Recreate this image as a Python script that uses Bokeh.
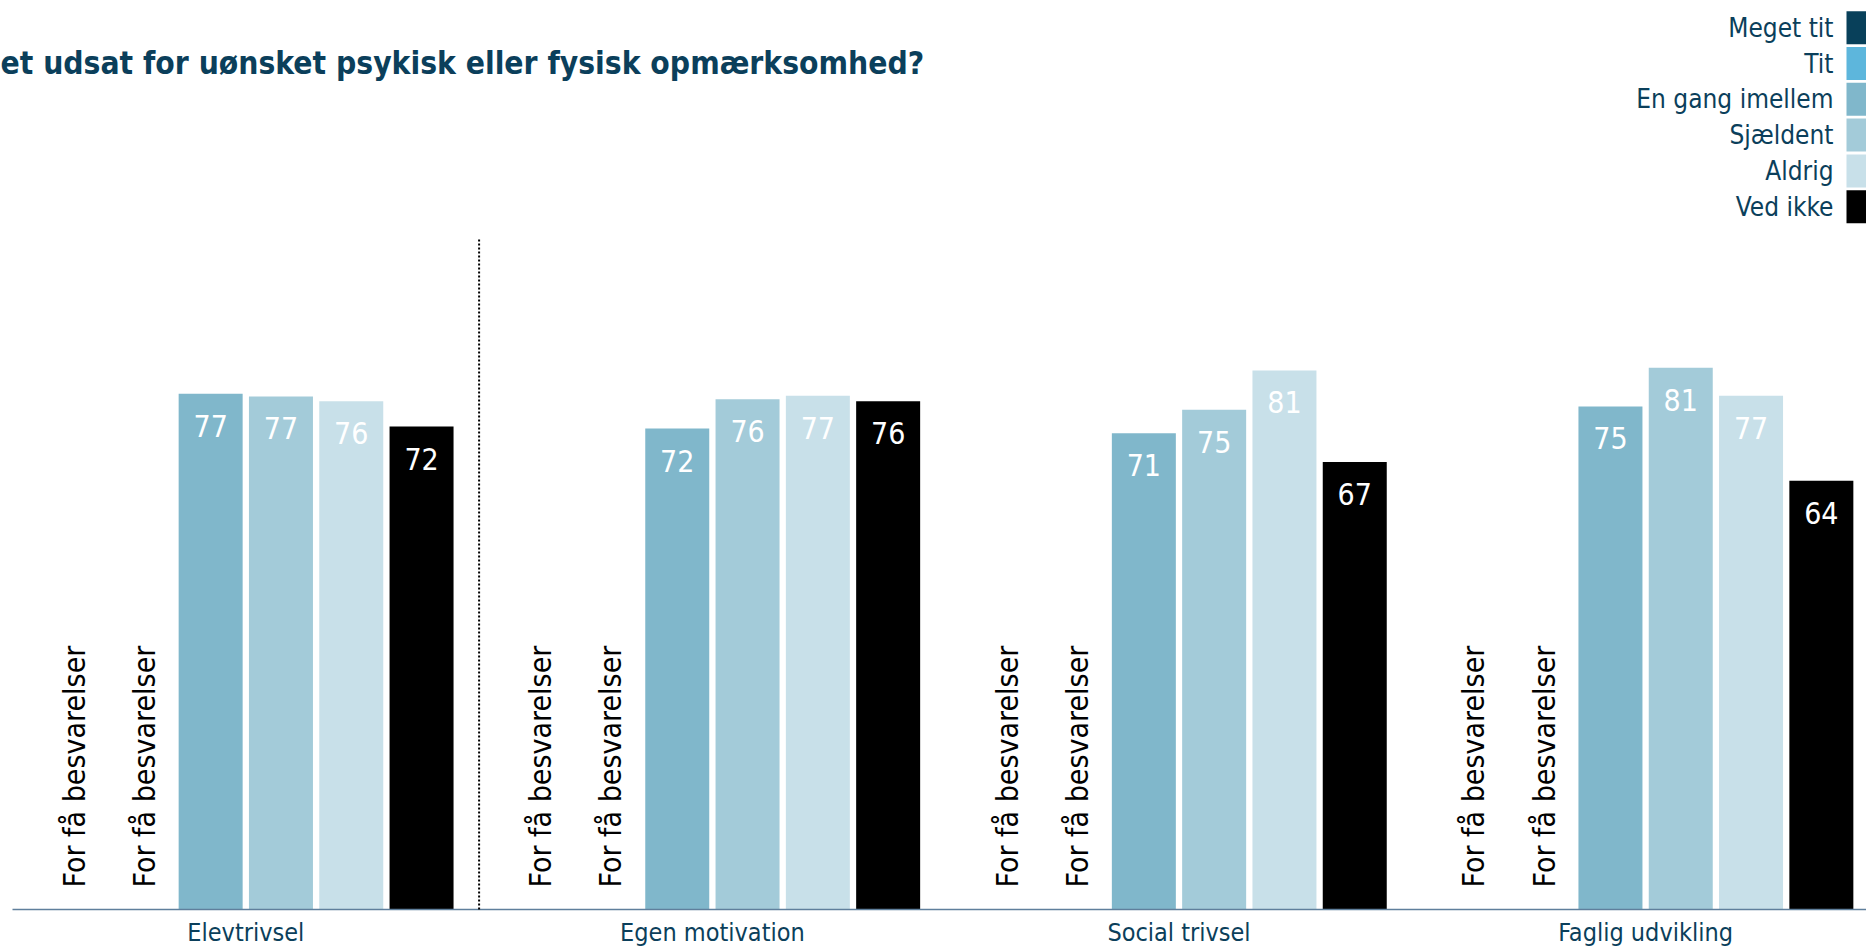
import math
from bokeh.plotting import figure
from bokeh.models import Range1d
from bokeh.core.properties import value
from bokeh.embed import file_html
from bokeh.resources import INLINE

# ---------------- data ----------------
title = "et udsat for uønsket psykisk eller fysisk opmærksomhed?"
groups = ["Elevtrivsel", "Egen motivation", "Social trivsel", "Faglig udvikling"]
series = ["Meget tit", "Tit", "En gang imellem", "Sjældent", "Aldrig", "Ved ikke"]
colors = ["#08405a", "#5db6dc", "#80b7cb", "#a3cbd9", "#c8e0e9", "#000000"]
NA = float("nan")
meget_tit = [NA, NA, NA, NA]
tit = [NA, NA, NA, NA]
en_gang_imellem = [77.2, 72.0, 71.3, 75.3]
sjaeldent = [76.8, 76.4, 74.8, 81.1]
aldrig = [76.1, 76.9, 80.7, 76.9]
ved_ikke = [72.3, 76.1, 67.0, 64.2]
values = [meget_tit, tit, en_gang_imellem, sjaeldent, aldrig, ved_ikke]
too_few = "For få besvarelser"
divider_after = [1]  # dotted separator after first group

# ---------------- layout ----------------
FONT = "DejaVu Sans Condensed"
TXT = "#0b3f5b"
W, H = 1866, 948
BASE = 909          # px from top of figure where value 0 lies
PPU = 6.68          # px per unit
GROUP_PX = 466.6
LEFT_PX = 12
STEP = 70.3 / GROUP_PX
BAR_W = 64 / GROUP_PX

p = figure(width=W, height=H, output_backend="svg", toolbar_location=None,
           x_range=Range1d(-LEFT_PX / GROUP_PX, (W - LEFT_PX) / GROUP_PX),
           y_range=Range1d(-(H - BASE) / PPU, BASE / PPU),
           x_axis_location=None, y_axis_location=None,
           min_border=0, outline_line_color=None)
p.extra_x_ranges = {"px": Range1d(0, W)}
p.extra_y_ranges = {"py": Range1d(H, 0)}
p.grid.visible = False

n_s = len(series)
for si, (name, col, vals) in enumerate(zip(series, colors, values)):
    xs, tops, labs, na_x = [], [], [], []
    for gi, v in enumerate(vals):
        x = gi + 0.5 + (si - (n_s - 1) / 2) * STEP
        if math.isnan(v):
            na_x.append(x)
        else:
            xs.append(x); tops.append(v); labs.append(str(int(round(v))))
    if xs:
        p.vbar(x=xs, top=tops, bottom=0, width=BAR_W, fill_color=col, line_color=None)
        p.text(x=xs, y=tops, text=labs, y_offset=32, text_align="center",
               text_baseline="alphabetic", text_color="white",
               text_font=value(FONT), text_font_size="30px")
    if na_x:
        p.text(x=na_x, y=[0] * len(na_x), text=[too_few] * len(na_x), angle=math.pi / 2,
               x_offset=4, y_offset=-22, text_align="left", text_baseline="middle",
               text_color="black", text_font=value(FONT), text_font_size="30px")

# axis line and category labels
p.segment(x0=[0], x1=[len(groups)], y0=[0], y1=[0], line_color="#5f7f9c", line_width=1.5)
p.text(x=[gi + 0.5 for gi in range(len(groups))], y=[0] * len(groups), text=groups,
       y_offset=23, text_align="center", text_baseline="middle",
       text_color=TXT, text_font=value(FONT), text_font_size="25px")

# dotted separator
for d in divider_after:
    p.segment(x0=[d], x1=[d], y0=[0], y1=[100.5], line_color="black",
              line_width=2, line_dash="2 2")

# title
p.text(x=[0], y=[62], text=[title], x_range_name="px", y_range_name="py",
       text_align="left", text_baseline="middle", text_color=TXT,
       text_font=value(FONT), text_font_style="bold", text_font_size="31.5px")

# legend (text right-aligned, swatch on the right)
leg_y = [27.2 + i * 35.8 for i in range(n_s)]
p.rect(x=[1846 + 16.5] * n_s, y=leg_y, width=33, height=33,
       x_range_name="px", y_range_name="py", fill_color=colors, line_color=None)
p.text(x=[1833] * n_s, y=leg_y, text=series, x_range_name="px", y_range_name="py",
       text_align="right", text_baseline="middle", text_color=TXT,
       text_font=value(FONT), text_font_size="26px")

open("out.html", "w").write(file_html(p, INLINE))
